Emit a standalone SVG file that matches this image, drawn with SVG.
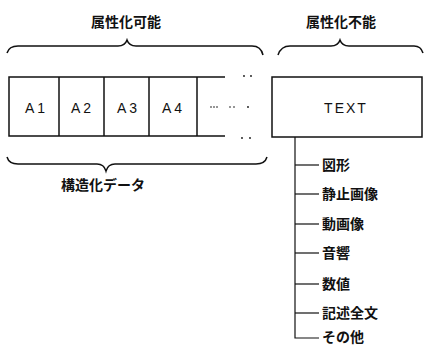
<svg xmlns="http://www.w3.org/2000/svg" width="425" height="347" viewBox="0 0 425 347">
<style>
.ln{fill:none;stroke:#111;stroke-width:1.5}
.th{fill:none;stroke:#111;stroke-width:1.2}
.jp{font-family:"Noto Sans CJK JP","Noto Sans",sans-serif;font-size:14px;font-weight:bold;fill:#111}
.lb{font-family:"Liberation Sans",Arial,sans-serif;font-size:14px;fill:#111;text-anchor:middle}
.d{fill:#111}
</style>
<rect width="425" height="347" fill="#fff"/>
<g id="title-left"><text class="jp" x="126" y="27" text-anchor="middle">属性化可能</text></g>
<g id="title-right"><text class="jp" x="341" y="27" text-anchor="middle">属性化不能</text></g>
<g id="braces">
<path class="ln" d="M7,53 Q9,46 18,46 L118,46 Q125,46 127,40 Q129,46 136,46 L252,46 Q261,46 263,55"/>
<path class="ln" d="M278,55 Q281,46 290,46 L331,46 Q338,46 340,40 Q342,46 349,46 L414,46 Q421,46 423,53"/>
<path class="ln" d="M7,157 Q9,164 18,164 L97,164 Q104,164 106,171 Q108,164 115,164 L256,164 Q265,164 267,157"/>
</g>
<g id="structured-row">
<path class="ln" d="M225,77 L9,77 L9,136 L225,136"/>
<line class="ln" x1="59" y1="77" x2="59" y2="136"/>
<line class="ln" x1="104" y1="77" x2="104" y2="136"/>
<line class="ln" x1="149" y1="77" x2="149" y2="136"/>
<line class="ln" x1="197" y1="77" x2="197" y2="136"/>
<text class="lb" x="35" y="113">A 1</text>
<text class="lb" x="81" y="113">A 2</text>
<text class="lb" x="127" y="113">A 3</text>
<text class="lb" x="172" y="113">A 4</text>
<g class="d">
<circle cx="211" cy="107" r="0.8"/><circle cx="214" cy="107" r="0.8"/><circle cx="217" cy="107" r="0.8"/>
<circle cx="230" cy="107" r="0.8"/><circle cx="234" cy="107" r="0.8"/>
<circle cx="248" cy="107" r="0.9"/>
<circle cx="244" cy="76" r="0.9"/><circle cx="251" cy="76" r="0.9"/>
<circle cx="242" cy="138" r="0.9"/><circle cx="250" cy="138" r="0.9"/>
</g>
</g>
<g id="text-node">
<rect class="ln" x="272" y="77" width="150" height="60" stroke-width="2"/>
<text class="lb" x="346" y="113" letter-spacing="2">TEXT</text>
</g>
<g id="connectors">
<path class="th" d="M295,137 L295,338 L319,338"/>
<line class="th" x1="295" y1="165" x2="319" y2="165"/>
<line class="th" x1="295" y1="194" x2="319" y2="194"/>
<line class="th" x1="295" y1="224" x2="319" y2="224"/>
<line class="th" x1="295" y1="253" x2="319" y2="253"/>
<line class="th" x1="295" y1="284" x2="319" y2="284"/>
<line class="th" x1="295" y1="313" x2="319" y2="313"/>
</g>
<g id="branch-labels">
<text class="jp" x="322" y="170">図形</text>
<text class="jp" x="322" y="199">静止画像</text>
<text class="jp" x="322" y="229">動画像</text>
<text class="jp" x="322" y="258">音響</text>
<text class="jp" x="322" y="289">数値</text>
<text class="jp" x="322" y="318">記述全文</text>
<text class="jp" x="322" y="342">その他</text>
</g>
<g id="label-structured"><text class="jp" x="103" y="190" text-anchor="middle">構造化データ</text></g>
</svg>
